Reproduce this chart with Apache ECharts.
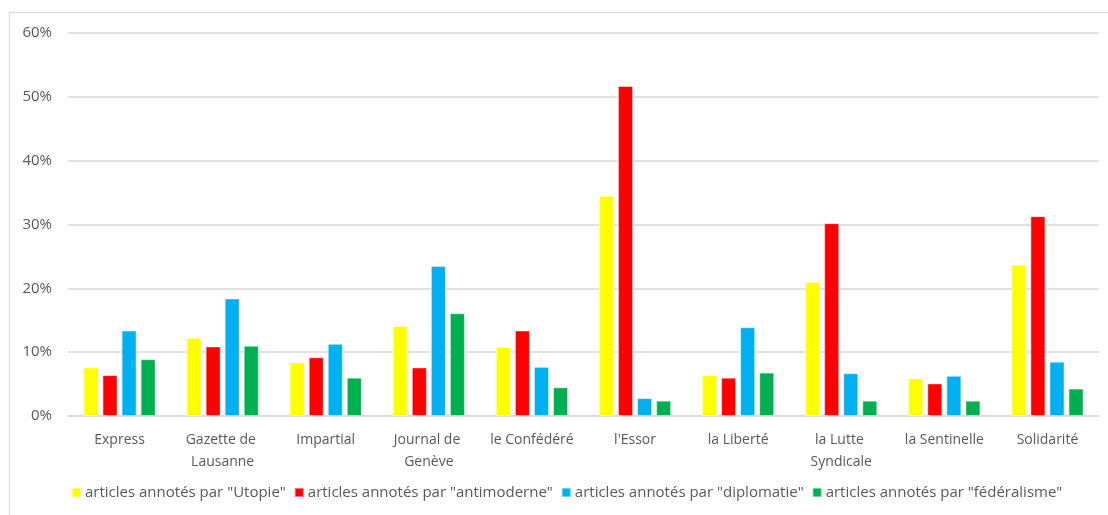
<!DOCTYPE html>
<html>
<head>
<meta charset="utf-8">
<script src="https://cdn.jsdelivr.net/npm/echarts@6/dist/echarts.min.js"></script>
<style>
  html, body { margin: 0; padding: 0; background: #fff; }
  #chart { width: 1108px; height: 515px; }
</style>
</head>
<body>
<div id="chart"></div>
<script>
// journaux
var categories = ['Express', 'Gazette de Lausanne', 'Impartial', 'Journal de Genève', 'le Confédéré',
  "l'Essor", 'la Liberté', 'la Lutte Syndicale', 'la Sentinelle', 'Solidarité'];

// parts d'articles annotés (%)
var utopie       = [7.6, 12.2, 8.4, 14.1, 10.8, 34.5, 6.4, 21.0, 5.9, 23.7];
var antimoderne  = [6.4, 10.9, 9.2, 7.6, 13.4, 51.7, 6.0, 30.2, 5.1, 31.3];
var diplomatie   = [13.4, 18.4, 11.3, 23.5, 7.7, 2.8, 13.9, 6.7, 6.3, 8.5];
var federalisme  = [8.9, 11.0, 6.0, 16.1, 4.5, 2.4, 6.8, 2.4, 2.4, 4.3];

var seriesNames = ['articles annotés par "Utopie"', 'articles annotés par "antimoderne"',
  'articles annotés par "diplomatie"', 'articles annotés par "fédéralisme"'];
var colors = ['#FFFF00', '#FF0000', '#00B0F0', '#00B050'];

var font = "'Open Sans', 'Noto Sans', sans-serif";
var chartDom = document.getElementById('chart');
var myChart = echarts.init(chartDom);

function bar(i, data) {
  return {
    name: seriesNames[i],
    type: 'bar',
    data: data,
    barWidth: 15,
    barGap: '27%',
    itemStyle: { color: colors[i], borderColor: 'rgba(255,255,255,0.45)', borderWidth: 1 }
  };
}

var option = {
  animation: false,
  color: colors,
  textStyle: { fontFamily: font },
  graphic: [{
    type: 'rect',
    shape: { x: 9.5, y: 12.5, width: 1200, height: 600 },
    style: { fill: 'none', stroke: '#d9d9d9', lineWidth: 1 },
    silent: true
  }],
  grid: { left: 68, right: 9, top: 33, bottom: 99 },
  legend: {
    bottom: 10,
    left: 66,
    itemWidth: 9,
    itemHeight: 9,
    itemGap: 8,
    icon: 'rect',
    textStyle: { color: '#595959', fontSize: 15, fontFamily: font, padding: [0, 0, 0, -1] },
    data: seriesNames
  },
  xAxis: {
    type: 'category',
    data: categories,
    axisLine: { lineStyle: { color: '#d9d9d9', width: 1.5 } },
    axisTick: { show: false },
    axisLabel: {
      color: '#595959',
      fontSize: 14,
      margin: 13,
      lineHeight: 22,
      width: 104,
      overflow: 'break',
      interval: 0
    }
  },
  yAxis: {
    type: 'value',
    min: 0,
    max: 60,
    interval: 10,
    axisLine: { show: false },
    axisTick: { show: false },
    splitLine: { lineStyle: { color: '#d9d9d9', width: 1.5 } },
    axisLabel: {
      color: '#595959',
      fontSize: 15,
      margin: 16,
      formatter: '{value}%'
    }
  },
  series: [
    bar(0, utopie),
    bar(1, antimoderne),
    bar(2, diplomatie),
    bar(3, federalisme)
  ]
};

myChart.setOption(option);

window.onresize = function () {
  myChart.resize();
};
</script>
</body>
</html>
